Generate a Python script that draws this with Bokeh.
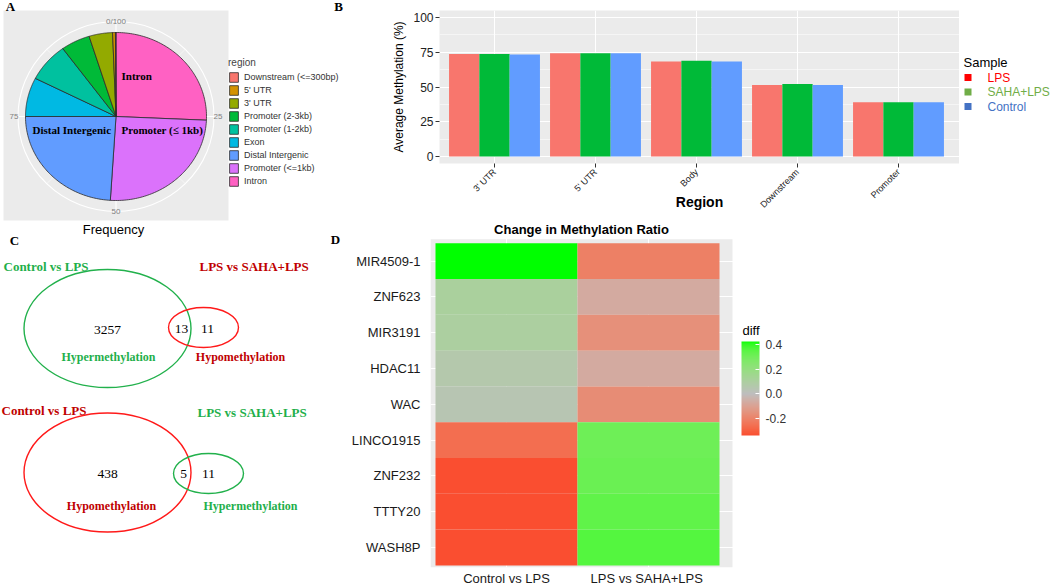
import numpy as np
from bokeh.plotting import figure
from bokeh.layouts import row, column
from bokeh.models import (Range1d, FixedTicker, Legend, LegendItem,
                          ColorBar, LinearColorMapper, ColumnDataSource, PrintfTickFormatter)
from bokeh.transform import transform
from bokeh.core.properties import value
from bokeh.embed import file_html
from bokeh.resources import INLINE

SANS = "Liberation Sans"
SERIF = "Liberation Serif"

# ---------------- data ----------------
# Panel A (pie, clockwise from top)
pie_regions = ["Intron", "Promoter (<=1kb)", "Distal Intergenic", "Exon", "Promoter (1-2kb)",
               "Promoter (2-3kb)", "3' UTR", "5' UTR", "Downstream (<=300bp)"]
pie_freq = [25.7, 25.3, 24.0, 7.5, 7.5, 5.2, 4.2, 0.5, 0.1]
pie_colors = ["#FF61C3", "#DB72FB", "#619CFF", "#00B9E3", "#00C19F",
              "#00BA38", "#93AA00", "#D39200", "#F8766D"]
pie_ticks = [0, 25, 50, 75]
pie_tick_labels = ["0/100", "25", "50", "75"]
pie_minor_ticks = [12.5, 37.5, 62.5, 87.5]

# Panel B (bars)
regions = ["3' UTR", "5' UTR", "Body", "Downstream", "Promoter"]
samples = ["LPS", "SAHA+LPS", "Control"]
meth_lps = [73.8, 74.3, 68.3, 51.5, 39.0]
meth_saha = [73.8, 74.3, 68.8, 52.2, 39.0]
meth_ctrl = [73.3, 74.3, 68.3, 51.5, 39.0]
bar_colors = ["#F8766D", "#00BA38", "#619CFF"]
legend_colors = ["#FF0000", "#70AD47", "#4472C4"]
y_ticks_b = [0, 25, 50, 75, 100]
y_minor_b = [12.5, 37.5, 62.5, 87.5]

# Panel C (Venn)
venn_top_counts = [3257, 13, 11]
venn_bottom_counts = [438, 5, 11]

# Panel D (heatmap)
genes = ["MIR4509-1", "ZNF623", "MIR3191", "HDAC11", "WAC", "LINCO1915", "ZNF232", "TTTY20", "WASH8P"]
comparisons = ["Control vs LPS", "LPS  vs SAHA+LPS"]
diff_ctrl_lps = [0.424, 0.11, 0.10, 0.06, 0.04, -0.26, -0.336, -0.336, -0.336]
diff_lps_saha = [-0.21, -0.07, -0.16, -0.07, -0.17, 0.31, 0.32, 0.34, 0.36]
cb_ticks = [-0.2, 0.0, 0.2, 0.4]

# ---------------- colour helpers (Lab interpolation like ggplot) ----------------
_M = np.array([[0.4124564, 0.3575761, 0.1804375],
               [0.2126729, 0.7151522, 0.0721750],
               [0.0193339, 0.1191920, 0.9503041]])
_WP = np.array([0.95047, 1.0, 1.08883])


def hex2lab(h):
    c = np.array([int(h[i:i + 2], 16) for i in (1, 3, 5)]) / 255.0
    lin = np.where(c <= 0.04045, c / 12.92, ((c + 0.055) / 1.055) ** 2.4)
    xyz = _M @ lin / _WP
    f = np.where(xyz > 216 / 24389, np.cbrt(xyz), (24389 / 27 * xyz + 16) / 116)
    return np.array([116 * f[1] - 16, 500 * (f[0] - f[1]), 200 * (f[1] - f[2])])


def lab2hex(lab):
    L, a, b = lab
    fy = (L + 16) / 116
    f = np.array([fy + a / 500, fy, fy - b / 200])
    xyz = np.where(f ** 3 > 216 / 24389, f ** 3, (116 * f - 16) / (24389 / 27)) * _WP
    lin = np.clip(np.linalg.solve(_M, xyz), 0, 1)
    c = np.where(lin <= 0.0031308, 12.92 * lin, 1.055 * lin ** (1 / 2.4) - 0.055)
    c = np.clip(np.round(c * 255), 0, 255).astype(int)
    return "#%02x%02x%02x" % tuple(c)


lab_lo, lab_mid, lab_hi = hex2lab("#FF0000"), hex2lab("#BEBEBE"), hex2lab("#00FF00")
palette = []
for t in np.linspace(0, 1, 255):
    if t < 0.5:
        palette.append(lab2hex(lab_lo + (lab_mid - lab_lo) * (t / 0.5)))
    else:
        palette.append(lab2hex(lab_mid + (lab_hi - lab_mid) * ((t - 0.5) / 0.5)))

common = dict(output_backend="svg", toolbar_location=None)

# ---------------- Panel A (also carries the panel letters B, C and D) ----------------
pA = figure(width=345, height=248, x_range=Range1d(0, 345), y_range=Range1d(248, 0),
            min_border=0, **common)
pA.axis.visible = False
pA.grid.visible = False
pA.outline_line_color = None
pA.quad(left=[3], right=[228], top=[10], bottom=[220], fill_color="#EBEBEB", line_color=None)
cx, cy, rx, ry = 115.5, 116.0, 90.5, 84.0
rxo, ryo = 98.0, 95.0
ang_major = 2 * np.pi * np.array(pie_ticks) / 100.0
ang_minor = 2 * np.pi * np.array(pie_minor_ticks) / 100.0
pA.segment(x0=[cx] * 4, y0=[cy] * 4, x1=cx + rxo * np.sin(ang_major), y1=cy - ryo * np.cos(ang_major),
           line_color="white", line_width=1.1)
pA.segment(x0=[cx] * 4, y0=[cy] * 4, x1=cx + rxo * np.sin(ang_minor), y1=cy - ryo * np.cos(ang_minor),
           line_color="white", line_width=0.5)
pA.ellipse(x=[cx], y=[cy], width=[2 * rxo], height=[2 * ryo], fill_color=None,
           line_color="white", line_width=1.1)
cum = np.concatenate([[0], np.cumsum(pie_freq)]) / np.sum(pie_freq)
pie_renderers = []
for i, name in enumerate(pie_regions):
    th = np.linspace(2 * np.pi * cum[i], 2 * np.pi * cum[i + 1], 80)
    xs = np.concatenate([[cx], cx + rx * np.sin(th)])
    ys = np.concatenate([[cy], cy - ry * np.cos(th)])
    r = pA.patch(xs, ys, fill_color=pie_colors[i], line_color="#2b2b2b", line_width=0.8)
    pie_renderers.append(r)
tick_r_x, tick_r_y = 102.0, 95.0
pA.text(x=cx + tick_r_x * np.sin(ang_major), y=cy - tick_r_y * np.cos(ang_major), text=pie_tick_labels,
        text_font=value(SANS), text_font_size="8px", text_color="#808080",
        text_align="center", text_baseline="middle")
pA.text(x=[121, 121, 32], y=[75, 129.5, 129.5], text=["Intron", "Promoter (\u2264 1kb)", "Distal Intergenic"],
        text_font=value(SERIF), text_font_style="bold", text_font_size="11px", text_color="black",
        text_align="left", text_baseline="middle")
pA.text(x=[113], y=[229], text=["Frequency"], text_font=value(SANS), text_font_size="13px",
        text_color="black", text_align="center", text_baseline="middle")
pA.text(x=[10, 338, 14, 335], y=[6, 6, 240, 239], text=["A", "B", "C", "D"], text_font=value(SERIF),
        text_font_style="bold", text_font_size="13px", text_color="black",
        text_align="center", text_baseline="middle")
legA = Legend(items=[LegendItem(label=pie_regions[i], renderers=[pie_renderers[i]])
                     for i in range(len(pie_regions) - 1, -1, -1)],
              title="region", location=(228, 61), orientation="vertical")
legA.title_text_font = SANS
legA.title_text_font_size = "10px"
legA.title_text_font_style = "normal"
legA.title_standoff = 3
legA.label_text_font = SANS
legA.label_text_font_size = "9px"
legA.label_text_color = "#333333"
legA.glyph_width = 11
legA.glyph_height = 12
legA.label_height = 12
legA.spacing = 1
legA.padding = 4
legA.margin = 0
legA.label_standoff = 5
legA.border_line_color = None
legA.background_fill_alpha = 0
pA.add_layout(legA, "center")

# ---------------- Panel C ----------------
pC = figure(width=345, height=340, x_range=Range1d(0, 345), y_range=Range1d(588, 248),
            min_border=0, **common)
pC.axis.visible = False
pC.grid.visible = False
pC.outline_line_color = None
GREEN_T, RED_T = "#1FAF4B", "#C00000"
GREEN_E, RED_E = "#22B14C", "#FF1A1A"
pC.ellipse(x=[107, 203], y=[328, 327], width=[167, 70], height=[118, 40], fill_color=None,
           line_color=[GREEN_E, RED_E], line_width=1.4)
pC.ellipse(x=[107, 208], y=[472, 473], width=[167, 70], height=[119, 40], fill_color=None,
           line_color=[RED_E, GREEN_E], line_width=1.4)
pC.text(x=[3, 199, 1, 197], y=[266, 266, 410, 412],
        text=["Control vs LPS", "LPS vs SAHA+LPS", "Control vs LPS", "LPS vs SAHA+LPS"],
        text_color=[GREEN_T, RED_T, RED_T, GREEN_T], text_font=value(SERIF), text_font_style="bold",
        text_font_size="13px", text_align="left", text_baseline="middle")
pC.text(x=[108, 240, 111, 250], y=[356, 356, 505, 505],
        text=["Hypermethylation", "Hypomethylation", "Hypomethylation", "Hypermethylation"],
        text_color=[GREEN_T, RED_T, RED_T, GREEN_T], text_font=value(SERIF), text_font_style="bold",
        text_font_size="12px", text_align="center", text_baseline="middle")
pC.text(x=[107, 181, 207], y=[329, 328, 328], text=[str(v) for v in venn_top_counts],
        text_color="black", text_font=value(SERIF), text_font_size="13.5px",
        text_align="center", text_baseline="middle")
pC.text(x=[107, 183, 208], y=[473, 473, 473], text=[str(v) for v in venn_bottom_counts],
        text_color="black", text_font=value(SERIF), text_font_size="13.5px",
        text_align="center", text_baseline="middle")

# ---------------- Panel B ----------------
BX0, BX1, BY0, BY1 = 439, 959, 10, 163          # gray panel (frame) in page pixels
B_UNIT = 101.0                                  # pixels per category
b_start = 0.5 - (494 - BX0) / B_UNIT
centers = [i + 0.5 for i in range(len(regions))]
pB = figure(width=BX1 - 345, height=215, x_range=Range1d(b_start, b_start + (BX1 - BX0) / B_UNIT),
            y_range=Range1d(-5, 105), min_border_left=BX0 - 345, min_border_right=0,
            min_border_top=BY0, min_border_bottom=215 - BY1, **common)
pB.background_fill_color = "#EBEBEB"
pB.outline_line_color = None
for vals, off, colr in zip([meth_lps, meth_saha, meth_ctrl], [-0.3, 0.0, 0.3], bar_colors):
    pB.vbar(x=[c + off for c in centers], top=vals, width=0.3, fill_color=colr, line_color=None)
pB.ygrid.ticker = FixedTicker(ticks=y_ticks_b, minor_ticks=y_minor_b)
pB.ygrid.grid_line_color = "white"
pB.ygrid.grid_line_width = 1.1
pB.ygrid.minor_grid_line_color = "white"
pB.ygrid.minor_grid_line_width = 0.5
pB.xgrid.ticker = FixedTicker(ticks=centers)
pB.xgrid.grid_line_color = "white"
pB.xgrid.grid_line_width = 1.1
pB.yaxis.ticker = FixedTicker(ticks=y_ticks_b)
pB.xaxis.ticker = FixedTicker(ticks=centers)
pB.xaxis.major_label_overrides = {c: r for c, r in zip(centers, regions)}
pB.yaxis.axis_label = "Average Methylation (%)"
pB.yaxis.axis_label_text_font = SANS
pB.yaxis.axis_label_text_font_style = "normal"
pB.yaxis.axis_label_text_font_size = "12px"
pB.yaxis.axis_label_text_color = "black"
pB.yaxis.axis_label_standoff = 4
pB.xaxis.axis_label = "Region"
pB.xaxis.axis_label_text_font = SANS
pB.xaxis.axis_label_text_font_style = "bold"
pB.xaxis.axis_label_text_font_size = "14px"
pB.xaxis.axis_label_text_color = "black"
pB.xaxis.axis_label_standoff = -22
pB.axis.axis_line_color = None
pB.axis.major_tick_line_color = "#333333"
pB.axis.major_tick_out = 4
pB.axis.major_tick_in = 0
pB.axis.minor_tick_line_color = None
pB.axis.major_label_text_font = SANS
pB.axis.major_label_text_color = "#222222"
pB.yaxis.major_label_text_font_size = "12px"
pB.yaxis.major_label_standoff = 2
pB.xaxis.major_label_text_font_size = "9px"
pB.xaxis.major_label_orientation = np.pi / 4
pB.xaxis.major_label_standoff = 3

# legend of panel B (coloured entries as in the reference), own small canvas whose
# frame has the same vertical borders as panel B (rows align plot frames)
pBL = figure(width=1050 - BX1, height=215, x_range=Range1d(BX1, 1050), y_range=Range1d(BY1, BY0),
             min_border_left=0, min_border_right=0, min_border_top=BY0, min_border_bottom=215 - BY1,
             **common)
pBL.axis.visible = False
pBL.grid.visible = False
pBL.outline_line_color = None
pBL.text(x=[963], y=[62], text=["Sample"], text_font=value(SANS), text_font_size="13px",
         text_color="black", text_align="left", text_baseline="middle")
leg_y = [77, 91.5, 106]
pBL.scatter(x=[967.5] * 3, y=leg_y, marker="square", size=7, fill_color=legend_colors, line_color=None)
pBL.text(x=[987] * 3, y=leg_y, text=samples, text_font=value(SANS), text_font_size="12px",
         text_color=legend_colors, text_align="left", text_baseline="middle")

# ---------------- Panel D ----------------
DX0, DX1, DY0, DY1 = 430, 1050, 215, 570       # frame in page pixels
TILE_W, TILE_H = 142.0, 36.1
d_xstart = 0.5 - (435 - DX0) / TILE_W
d_yend = 0.5 - (243 - DY0) / TILE_H
d_ystart = d_yend + (DY1 - DY0) / TILE_H
mapper = LinearColorMapper(palette=palette, low=-0.424, high=0.424)
d_x, d_y, d_val = [], [], []
for gi, (v1, v2) in enumerate(zip(diff_ctrl_lps, diff_lps_saha)):
    d_x += [1, 2]
    d_y += [gi + 1, gi + 1]
    d_val += [v1, v2]
srcD = ColumnDataSource(dict(x=d_x, y=d_y, diff=d_val))
pD = figure(width=705, height=373, x_range=Range1d(d_xstart, d_xstart + (DX1 - DX0) / TILE_W),
            y_range=Range1d(d_ystart, d_yend),
            min_border_left=DX0 - 345, min_border_right=0, min_border_top=0,
            min_border_bottom=373 - (DY1 - DY0), **common)
pD.extra_x_ranges = {"px": Range1d(DX0, DX1)}
pD.extra_y_ranges = {"px": Range1d(DY1, DY0)}
pD.background_fill_color = "white"
pD.outline_line_color = None
pD.quad(left=[DX0], right=[732], top=[239], bottom=[DY1], x_range_name="px", y_range_name="px",
        fill_color="#EBEBEB", line_color=None, level="image")
pD.rect(x="x", y="y", width=1, height=1, source=srcD,
        fill_color=transform("diff", mapper), line_color=None)
pD.xaxis.ticker = FixedTicker(ticks=[1, 2])
pD.xaxis.major_label_overrides = {i + 1: c for i, c in enumerate(comparisons)}
pD.yaxis.ticker = FixedTicker(ticks=list(range(1, len(genes) + 1)))
pD.yaxis.major_label_overrides = {i + 1: g for i, g in enumerate(genes)}
pD.xgrid.ticker = FixedTicker(ticks=[1, 2])
pD.ygrid.ticker = FixedTicker(ticks=list(range(1, len(genes) + 1)))
pD.grid.grid_line_color = "white"
pD.grid.grid_line_width = 1.1
pD.axis.axis_line_color = None
pD.axis.major_tick_line_color = None
pD.axis.minor_tick_line_color = None
pD.axis.major_tick_out = 0
pD.axis.major_tick_in = 0
pD.axis.minor_tick_out = 0
pD.axis.minor_tick_in = 0
pD.axis.major_label_text_font = SANS
pD.axis.major_label_text_font_size = "13px"
pD.axis.major_label_text_color = "#1A1A1A"
pD.yaxis.major_label_standoff = 10
pD.xaxis.major_label_standoff = 3
pD.text(x=[581], y=[229], text=["Change in Methylation Ratio"], x_range_name="px", y_range_name="px",
        text_font=value(SANS), text_font_style="bold", text_font_size="13px", text_color="black",
        text_align="center", text_baseline="middle")
pD.text(x=[742], y=[331], text=["diff"], x_range_name="px", y_range_name="px",
        text_font=value(SANS), text_font_size="13px", text_color="black",
        text_align="left", text_baseline="middle")
cb = ColorBar(color_mapper=mapper, location=(741 - DX0, DY1 - 435 - 3), width=18, height=94,
              display_low=-0.336, display_high=0.424,
              ticker=FixedTicker(ticks=cb_ticks), formatter=PrintfTickFormatter(format="%.1f"),
              major_label_text_font=SANS, major_label_text_font_size="12px",
              major_label_text_color="#333333", label_standoff=6,
              major_tick_line_color="white", major_tick_in=4, major_tick_out=0,
              minor_tick_line_color=None, bar_line_color=None, border_line_color=None,
              background_fill_alpha=0, padding=0, margin=0)
pD.add_layout(cb, "center")

layout = row(column(pA, pC), column(row(pB, pBL), pD))
open("out.html", "w").write(file_html(layout, INLINE))
